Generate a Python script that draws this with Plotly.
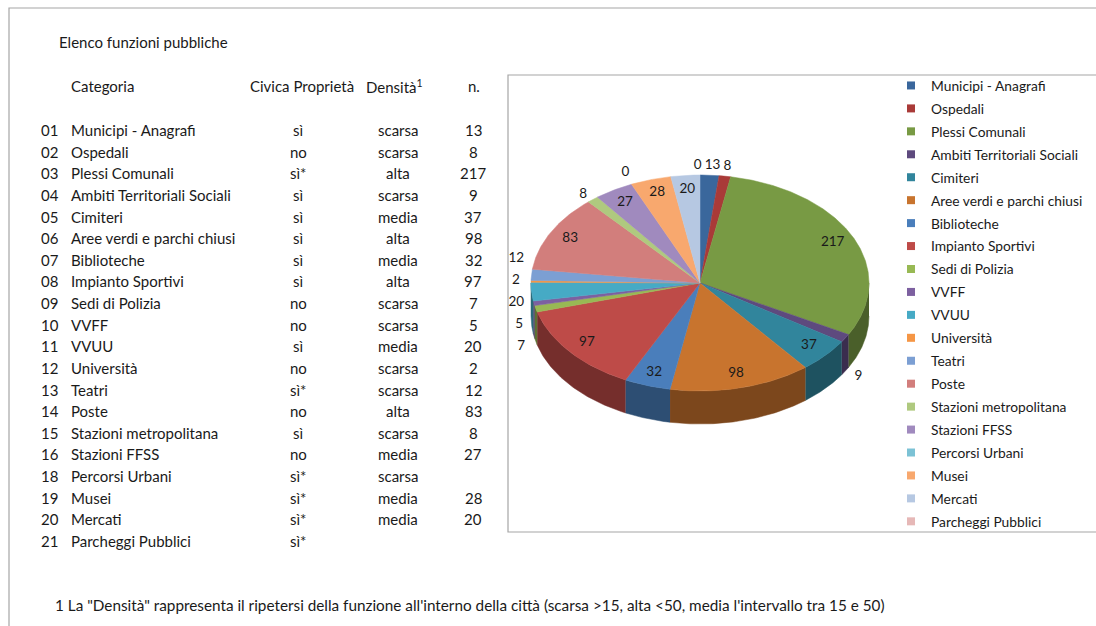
import numpy as np
import plotly.graph_objects as go

# ---------------- data ----------------
codes = ["01", "02", "03", "04", "05", "06", "07", "08", "09", "10",
         "11", "12", "13", "14", "15", "16", "18", "19", "20", "21"]
categories = ["Municipi - Anagrafi", "Ospedali", "Plessi Comunali",
              "Ambiti Territoriali Sociali", "Cimiteri", "Aree verdi e parchi chiusi",
              "Biblioteche", "Impianto Sportivi", "Sedi di Polizia", "VVFF", "VVUU",
              "Università", "Teatri", "Poste", "Stazioni metropolitana", "Stazioni FFSS",
              "Percorsi Urbani", "Musei", "Mercati", "Parcheggi Pubblici"]
civica = ["sì", "no", "sì*", "sì", "sì", "sì", "sì", "sì", "no", "no",
          "sì", "no", "sì*", "no", "sì", "no", "sì*", "sì*", "sì*", "sì*"]
densita = ["scarsa", "scarsa", "alta", "scarsa", "media", "alta", "media", "alta",
           "scarsa", "scarsa", "media", "scarsa", "scarsa", "alta", "scarsa", "media",
           "scarsa", "media", "media", ""]
n_values = [13, 8, 217, 9, 37, 98, 32, 97, 7, 5, 20, 2, 12, 83, 8, 27, None, 28, 20, None]
pie_values = [v if v is not None else 0 for v in n_values]

colors = ["#3A679C", "#A93A38", "#789A44", "#5E4A7E", "#31859C", "#C8742E",
          "#4A7EBB", "#BE4B48", "#98B954", "#7D60A0", "#46AAC5", "#F59645",
          "#7C9FD3", "#D27E7C", "#AFC97F", "#A08ABE", "#7CC2D5", "#F8A86E",
          "#B6C8E2", "#E6B8B7"]
label_inside = [False, False, True, False, True, True, True, True, False, False,
                False, False, False, True, False, True, False, True, True, False]

title_text = "Elenco funzioni pubbliche"
headers = ["Categoria", "Civica Proprietà", "Densità<sup>1</sup>", "n."]
footnote = ('1 La "Densità" rappresenta il ripetersi della funzione all\'interno della città '
            '(scarsa >15, alta <50, media l\'intervallo tra 15 e 50)')

# ---------------- layout helpers ----------------
W, H = 1096, 626
FONT = "Lato"
TXT = "#1a1a1a"
cx, cy, rx, ry, depth = 700, 283, 169, 108, 33


def pt(theta, f=1.0, dy=0.0):
    t = np.radians(theta)
    return cx + rx * f * np.sin(t), cy - ry * f * np.cos(t) + dy


def darken(hexc, k):
    hexc = hexc.lstrip("#")
    r, g, b = (int(hexc[i:i + 2], 16) for i in (0, 2, 4))
    return "rgb(%d,%d,%d)" % (r * k, g * k, b * k)


total = float(sum(pie_values))
cum = np.concatenate([[0], np.cumsum(pie_values)])
a_start = cum[:-1] / total * 360.0
a_end = cum[1:] / total * 360.0

fig = go.Figure()

# side walls (front half visible)
for i, v in enumerate(pie_values):
    if v <= 0:
        continue
    t1, t2 = max(a_start[i], 90.0), min(a_end[i], 270.0)
    if t2 <= t1:
        continue
    th = np.linspace(t1, t2, 60)
    xt, yt = pt(th)
    xb, yb = pt(th[::-1], dy=depth)
    wc = darken(colors[i], 0.62)
    fig.add_trace(go.Scatter(x=np.concatenate([xt, xb]), y=np.concatenate([yt, yb]),
                             fill="toself", fillcolor=wc, mode="lines",
                             line=dict(color=wc, width=0.5), showlegend=False,
                             hoverinfo="skip"))

# top faces
for i, v in enumerate(pie_values):
    if v <= 0:
        continue
    th = np.linspace(a_start[i], a_end[i], max(4, int((a_end[i] - a_start[i]) * 2)))
    xa, ya = pt(th)
    xs = np.concatenate([[cx], xa, [cx]])
    ys = np.concatenate([[cy], ya, [cy]])
    fig.add_trace(go.Scatter(x=xs, y=ys, fill="toself", fillcolor=colors[i], mode="lines",
                             line=dict(color=colors[i], width=0.5), showlegend=False,
                             hovertext=f"{categories[i]}: {v}", hoverinfo="text"))

# data labels
labels = [str(v) for v in pie_values]
lx, ly = [], []
for i, v in enumerate(pie_values):
    mid = (a_start[i] + a_end[i]) / 2.0
    c = np.cos(np.radians(mid))
    if label_inside[i]:
        x, y = pt(mid, 0.87)
    else:
        x, y = pt(mid, 1.09, dy=depth * float(np.clip(-c * 3, 0, 1)))
    lx.append(float(x))
    ly.append(float(y))

# spread outside labels vertically on the left and right sides
for side in (-1, 1):
    idx = [i for i in range(len(pie_values)) if not label_inside[i]
           and (lx[i] - cx) * side > 40]
    idx.sort(key=lambda k: ly[k])
    gap = 22.0
    for _ in range(200):
        moved = False
        for a, b in zip(idx[:-1], idx[1:]):
            d = ly[b] - ly[a]
            if d < gap:
                s = (gap - d) / 2.0
                ly[a] -= s
                ly[b] += s
                moved = True
        if not moved:
            break

# spread outside labels horizontally near the top
idx = [i for i in range(len(pie_values)) if not label_inside[i]
       and abs(lx[i] - cx) <= 40 and ly[i] < cy]
idx.sort(key=lambda k: lx[k])
for _ in range(200):
    moved = False
    for a, b in zip(idx[:-1], idx[1:]):
        need = 7.2 * (len(labels[a]) + len(labels[b])) / 2.0 + 4
        d = lx[b] - lx[a]
        if d < need:
            s = (need - d) / 2.0
            lx[a] -= s
            lx[b] += s
            moved = True
    if not moved:
        break

fig.add_trace(go.Scatter(x=lx, y=ly, mode="text", text=labels,
                         textfont=dict(family=FONT, size=13.5, color=TXT),
                         showlegend=False, hoverinfo="skip"))

# legend entries
for i, cat in enumerate(categories):
    fig.add_trace(go.Scatter(x=[None], y=[None], mode="markers", name=cat,
                             legendgroup=f"g{i}",
                             marker=dict(symbol="square", size=8, color=colors[i])))

# ---------------- table as text ----------------
ann = []
ann.append(dict(x=57, y=42, text=title_text, xanchor="left"))
hx = [(69, "left"), (302, "center"), (394, "center"), (474, "center")]
for (x, anc), t in zip(hx, headers):
    ann.append(dict(x=x, y=86, text=t, xanchor=anc))

row0, step = 130.0, (541.0 - 130.0) / 19.0
for r in range(len(categories)):
    y = row0 + r * step
    ann.append(dict(x=39, y=y, text=codes[r], xanchor="left"))
    ann.append(dict(x=69, y=y, text=categories[r], xanchor="left"))
    ann.append(dict(x=298, y=y, text=civica[r], xanchor="center"))
    if densita[r]:
        ann.append(dict(x=398, y=y, text=densita[r], xanchor="center"))
    if n_values[r] is not None:
        ann.append(dict(x=473, y=y, text=str(n_values[r]), xanchor="center"))

ann.append(dict(x=53, y=605, text=footnote, xanchor="left", size=15.3))

annotations = []
for a in ann:
    size = a.pop("size", 15)
    d = dict(xref="x", yref="y", showarrow=False, yanchor="middle",
             font=dict(family=FONT, size=size, color=TXT))
    d.update(a)
    annotations.append(d)

shapes = [
    dict(type="rect", xref="x", yref="y", x0=9, y0=8, x1=1100, y1=632,
         line=dict(color="#a6a6a6", width=1.2)),
    dict(type="rect", xref="x", yref="y", x0=508, y0=75, x1=1100, y1=532,
         line=dict(color="#a6a6a6", width=1.2)),
]

fig.update_layout(
    width=W, height=H,
    margin=dict(l=0, r=0, t=0, b=0, pad=0),
    paper_bgcolor="white", plot_bgcolor="white",
    xaxis=dict(range=[0, W], visible=False, fixedrange=True, domain=[0, 1]),
    yaxis=dict(range=[H, 0], visible=False, fixedrange=True, domain=[0, 1]),
    annotations=annotations,
    shapes=shapes,
    showlegend=True,
    legend=dict(x=891 / W, y=1 - 70 / H, xanchor="left", yanchor="top",
                font=dict(family=FONT, size=13.8, color=TXT),
                tracegroupgap=2, bgcolor="rgba(0,0,0,0)", itemclick=False,
                itemdoubleclick=False),
    font=dict(family=FONT),
)

fig.write_html("out.html")
